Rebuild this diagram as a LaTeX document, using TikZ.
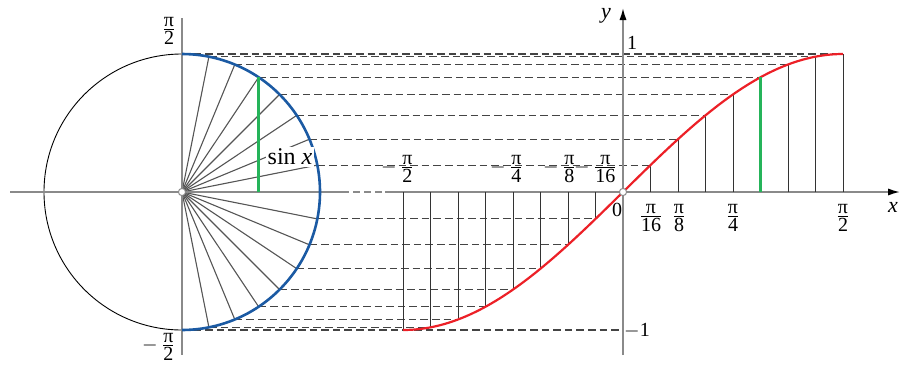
\documentclass[tikz,border=0pt]{standalone}
\usepackage{fontspec}
\setmainfont{Liberation Serif}
\usetikzlibrary{arrows.meta}
\newcommand\pifr[1]{$\frac{\mbox{π}}{\mbox{#1}}$}
\newcommand\mpifr[1]{$-\,\frac{\mbox{π}}{\mbox{#1}}$}
\definecolor{axisgray}{HTML}{8A8A8A}
\definecolor{raygray}{HTML}{555555}
\definecolor{dashgray}{HTML}{444444}
\definecolor{arcblue}{HTML}{1B5AA3}
\definecolor{curvered}{HTML}{EC2027}
\definecolor{sinegreen}{HTML}{25B45A}
\tikzset{
  dashln/.style={draw=dashgray,line width=0.55pt,dash pattern=on 3.8pt off 2pt},
  axisln/.style={draw=axisgray,line width=0.8pt},
  rayln/.style={draw=raygray,line width=0.55pt},
  vertln/.style={draw=black!80,line width=0.5pt},
  lbl/.style={inner sep=0.5pt,font=\fontsize{10}{12}\selectfont},
  tip/.style={-{Latex[length=6pt,width=3.6pt,color=black]}},
  dot/.style={circle,draw=axisgray,fill=white,line width=0.5pt,inner sep=0pt,minimum size=3.6pt}
}
\begin{document}
\begin{tikzpicture}[x=0.5pt,y=-0.5pt]
\useasboundingbox (0,0) rectangle (901,365);
% key points
\coordinate (C) at (182,192);
\coordinate (O) at (623,192);
\foreach \n in {0,...,16}{
  \pgfmathsetmacro\a{(\n-8)*11.25}
  \coordinate (c\n) at ({182+138*cos(\a)},{192-138*sin(\a)});
  \coordinate (g\n) at ({623+27.5*(\n-8)},{192-138*sin(\a)});
  \coordinate (a\n) at ({623+27.5*(\n-8)},192);
}
\coordinate (ym) at (623,330);
% dashed projection lines
\foreach \n in {1,...,7,9,10,...,16}{
  \draw[dashln] (c\n) -- (g\n);
}
\draw[dashln] (c0) -- (ym);
% circle and rays
\draw[black,line width=0.45pt] (C) circle[radius=138];
\foreach \n in {1,...,7,9,10,...,15}{
  \draw[rayln] (C) -- (c\n);
}
% axes
\coordinate (lx0) at (10,192);
\coordinate (lx1) at (342,192);
\coordinate (rx0) at (385,192);
\coordinate (rx1) at (900,192);
\coordinate (cy0) at (182,18);
\coordinate (cy1) at (182,355);
\coordinate (gy0) at (623,355);
\coordinate (gy1) at (623,8);
\draw[axisln] (lx0) -- (lx1);
\draw[axisln,dash pattern=on 3.5pt off 2pt] (lx1) -- (rx0);
\draw[axisln,tip] (rx0) -- (rx1);
\draw[axisln] (cy0) -- (cy1);
\draw[axisln,tip] (gy0) -- (gy1);
% blue arc
\draw[arcblue,line width=1.3pt] plot[domain=-90:90,samples=90] ({182+138*cos(\x)},{192-138*sin(\x)});
% vertical lines in graph
\foreach \n in {0,...,7,9,10,11,12,14,15,16}{
  \draw[vertln] (a\n) -- (g\n);
}
% sine curve
\draw[curvered,line width=1.1pt] plot[domain=-90:90,samples=120] ({623+\x*(220/90)},{192-138*sin(\x)});
% green segments
\coordinate (s13) at (c13 |- C);
\draw[sinegreen,line width=1.3pt] (s13) -- (c13);
\draw[sinegreen,line width=1.3pt] (a13) -- (g13);
% origin dots
\node[dot] (d1) at (C) {};
\node[dot] (d2) at (O) {};
% labels
\node[lbl] (lp2) at (169,31) {\pifr{2}};
\node[lbl] (lm2) at (159,347) {\mpifr{2}};
\node[lbl,fill=white,inner sep=1pt,font=\fontsize{12}{14}\selectfont] (sinx) at (290,157) {sin \textit{x}};
\node[lbl] (n2) at (398,169) {\mpifr{2}};
\node[lbl] (n4) at (507,169) {\mpifr{4}};
\node[lbl] (n8) at (560,169) {\mpifr{8}};
\node[lbl] (n16) at (596,169) {\mpifr{16}};
\node[lbl] (p16) at (651,218) {\pifr{16}};
\node[lbl] (p8) at (679,218) {\pifr{8}};
\node[lbl] (p4) at (733,218) {\pifr{4}};
\node[lbl] (p2) at (843,218) {\pifr{2}};
\node[lbl] (zero) at (617,210) {0};
\node[lbl] (one) at (632,43) {1};
\node[lbl] (mone) at (637,331) {$-$1};
\node[lbl,font=\fontsize{11}{13}\selectfont] (xl) at (893,207) {\textit{x}};
\node[lbl,font=\fontsize{11}{13}\selectfont] (yl) at (606,16) {\textit{y}};
\end{tikzpicture}
\end{document}
